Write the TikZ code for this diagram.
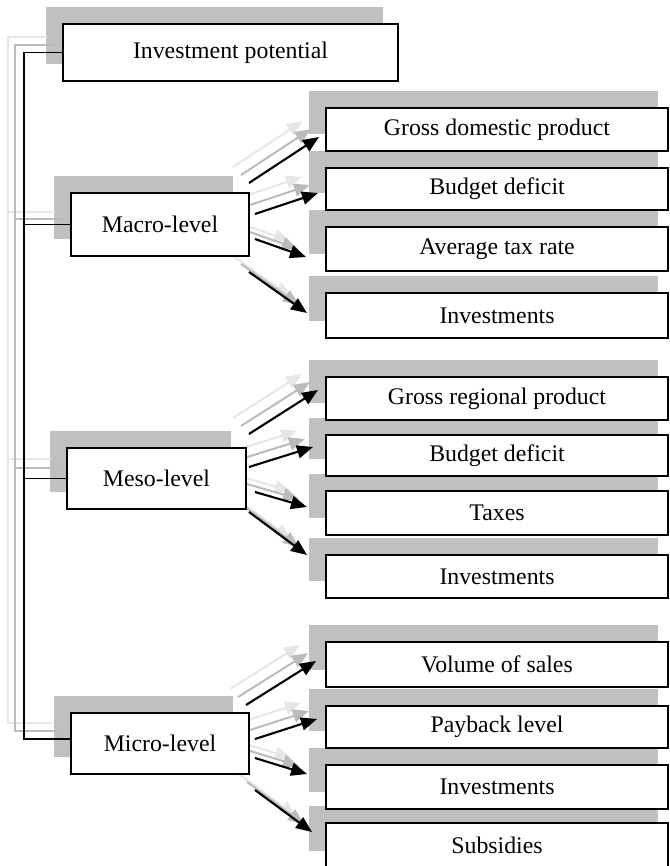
\documentclass[tikz,border=0pt]{standalone}
\usepackage{fontspec}
\setmainfont{Liberation Serif}
\usetikzlibrary{arrows.meta,calc}
\definecolor{shadowc}{HTML}{C0C0C0}
\definecolor{ghostA}{HTML}{BBBBBB}
\definecolor{ghostB}{HTML}{E6E6E6}
\pgfdeclarelayer{bg}\pgfdeclarelayer{mid}\pgfsetlayers{bg,mid,main}
\newcommand\mkbox[7]{%
  \begin{pgfonlayer}{bg}\fill[shadowc] ({#2-17},{#3-17}) rectangle (#6,{#5-17});\end{pgfonlayer}
  \node[box, minimum width={#4-#2}, minimum height={#5-#3}] (#1) at ({(#2+#4)/2},{(#3+#5)/2}) {#7};}
\newcommand\garr[2]{%
  \draw[gh2,tipB] ([shift={(-16,-16)}]#1) -- ([shift={(-16,-16)}]#2);
  \draw[gh1,tipA] ([shift={(-8,-8)}]#1) -- ([shift={(-8,-8)}]#2);
  \draw[arr] (#1) -- (#2);}
\begin{document}
\begin{tikzpicture}[x=1pt,y=-1pt,
  box/.style={draw, line width=1.7pt, fill=white, inner sep=0pt, font=\fontsize{23.8}{28}\selectfont},
  conn/.style={line width=1.7pt},
  gh1/.style={draw=ghostA, line width=2pt},
  gh2/.style={draw=ghostB, line width=2pt},
  arr/.style={line width=2.1pt, -{Triangle[length=16pt,width=13pt]}},
  tipA/.style={-{Triangle[length=16pt,width=13pt,fill=ghostA]}},
  tipB/.style={-{Triangle[length=16pt,width=13pt,fill=ghostB]}}]
\useasboundingbox (0,0) rectangle (669,866);
% left column
\mkbox{ip}{63}{24}{398}{81}{383}{Investment potential}
\mkbox{macro}{71}{193}{249}{256}{233}{Macro-level}
\mkbox{meso}{67}{448}{246}{509}{231}{Meso-level}
\mkbox{micro}{71}{713}{249}{774}{233}{Micro-level}
% macro targets
\mkbox{gdp}{326}{108}{668}{151}{658}{Gross domestic product}
\mkbox{bda}{326}{168}{668}{210}{658}{Budget deficit}
\mkbox{atr}{326}{227}{668}{271}{658}{Average tax rate}
\mkbox{inva}{326}{293}{668}{338}{658}{Investments}
% meso targets
\mkbox{grp}{326}{377}{668}{420}{658}{Gross regional product}
\mkbox{bdb}{326}{435}{668}{476}{658}{Budget deficit}
\mkbox{tax}{326}{491}{668}{535}{658}{Taxes}
\mkbox{invb}{326}{555}{668}{598}{658}{Investments}
% micro targets
\mkbox{vos}{326}{642}{668}{687}{658}{Volume of sales}
\mkbox{pay}{326}{706}{668}{748}{658}{Payback level}
\mkbox{invc}{326}{765}{668}{809}{658}{Investments}
\mkbox{sub}{326}{823}{668}{868}{658}{Subsidies}
% arrow end points
\coordinate (a1s) at (249,183); \coordinate (a1e) at (319,137);
\coordinate (a2s) at (255,214); \coordinate (a2e) at (318,193);
\coordinate (a3s) at (255,239); \coordinate (a3e) at (306,257);
\coordinate (a4s) at (249,272); \coordinate (a4e) at (307,313);
\coordinate (b1s) at (249,434); \coordinate (b1e) at (318,390);
\coordinate (b2s) at (249,467); \coordinate (b2e) at (313,447);
\coordinate (b3s) at (255,492); \coordinate (b3e) at (307,507);
\coordinate (b4s) at (249,512); \coordinate (b4e) at (307,555);
\coordinate (c1s) at (246,705); \coordinate (c1e) at (316,661);
\coordinate (c2s) at (255,739); \coordinate (c2e) at (317,719);
\coordinate (c3s) at (255,758); \coordinate (c3e) at (307,774);
\coordinate (c4s) at (255,790); \coordinate (c4e) at (312,832);
\coordinate (sb) at (24,739);
\begin{pgfonlayer}{mid}
  % ghost spines
  \draw[gh2] (47,37) -- (8,37) -- (8,723) -- (52,723);
  \draw[gh2] (8,212) -- (55,212);
  \draw[gh2] (8,459) -- (51,459);
  \draw[gh1] (55,45) -- (15,45) -- (15,731) -- (60,731);
  \draw[gh1] (15,219) -- (63,219);
  \draw[gh1] (15,468) -- (59,468);
  % black spine
  \draw[conn] (ip.west) -| (sb) -- (sb -| micro.west);
  \draw[conn] (macro.west) -- (macro.west -| sb);
  \draw[conn] (meso.west) -- (meso.west -| sb);
  % arrows
  \garr{a1s}{a1e}\garr{a2s}{a2e}\garr{a3s}{a3e}\garr{a4s}{a4e}
  \garr{b1s}{b1e}\garr{b2s}{b2e}\garr{b3s}{b3e}\garr{b4s}{b4e}
  \garr{c1s}{c1e}\garr{c2s}{c2e}\garr{c3s}{c3e}\garr{c4s}{c4e}
\end{pgfonlayer}
\end{tikzpicture}
\end{document}
